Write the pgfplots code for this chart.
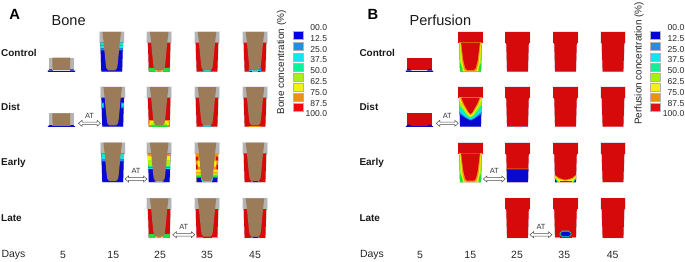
\documentclass[border=0pt]{standalone}
\usepackage{pgfplots}
\pgfplotsset{compat=1.18}
\usepackage{fontspec}
\setmainfont{Liberation Sans}
\definecolor{cA}{HTML}{0000E0}
\definecolor{cB}{HTML}{1E90E8}
\definecolor{cC}{HTML}{10E8F0}
\definecolor{cD}{HTML}{10F09A}
\definecolor{cE}{HTML}{A8F010}
\definecolor{cF}{HTML}{F4F010}
\definecolor{cG}{HTML}{F09010}
\definecolor{cH}{HTML}{EE0A0A}
\definecolor{ired}{HTML}{D60A0A}
\definecolor{iblue}{HTML}{0808D0}
\definecolor{igreen}{HTML}{20E040}
\definecolor{brown}{HTML}{9C7C58}
\definecolor{igray}{HTML}{B4B4B4}
\definecolor{halo}{HTML}{DCDCE6}
% general polygon: colour, sign, x offset, y offset, coordinates
\newcommand\ShX[5]{\addplot[forget plot,no marks,fill=#2,draw=none,x filter/.expression={#3*x+#4},y filter/.expression={y+#5}] coordinates {#1} -- cycle;}
\newcommand\ShG[5]{\edef\tmpc{#5}\expandafter\ShX\expandafter{\tmpc}{#1}{#2}{#3}{#4}}
\newcommand\Sh[4]{\ShG{#1}{1}{#2}{#3}{#4}}
\newcommand\Sm[4]{\ShG{#1}{1}{#2}{#3}{#4}\ShG{#1}{-1}{#2}{#3}{#4}}
% relative shapes
\def\Coll{(-12.2,0)(12.2,0)(12.2,10.8)(-12.2,10.8)}
\def\Bod{(-11.3,10.7)(11.3,10.7)(10.4,39.5)(-10.4,39.5)}
\def\Imp{(-9.3,0)(9.3,0)(8,11)(7,22)(6,32)(5.4,36)(3.6,38.3)(-3.6,38.3)(-5.4,36)(-6,32)(-7,22)(-8,11)}
\def\Short{(-12.2,0)(12.2,0)(12.2,13.3)(-12.2,13.3)}
\newcommand\TallA[3]{%color cx y0
 \addplot[forget plot,no marks,fill=halo,draw=halo,line width=1.1pt,x filter/.expression={x+#2},y filter/.expression={y+#3}] coordinates {(-12.2,0)(12.2,0)(12.2,10.7)(11.3,11)(10.4,39.5)(-10.4,39.5)(-11.3,11)(-12.2,10.7)} -- cycle;
 \Sh{igray}{#2}{#3}{\Coll}\Sh{#1}{#2}{#3}{\Bod}}
\newcommand\ImpA[2]{\Sh{brown}{#1}{#2}{\Imp}}
\newcommand\TallB[3]{%
 \addplot[forget plot,no marks,fill=halo,draw=halo,line width=1.1pt,x filter/.expression={x+#2},y filter/.expression={y+#3}] coordinates {(-12.2,0)(12.2,0)(12.2,10.7)(11.3,11)(10.4,39.5)(-10.4,39.5)(-11.3,11)(-12.2,10.7)} -- cycle;
 \Sh{ired}{#2}{#3}{\Coll}\Sh{#1}{#2}{#3}{\Bod}}
\newcommand\ShortBase[2]{%
 \Sh{halo}{#1}{#2}{(-14.2,12.6)(14.2,12.6)(14.2,13.8)(-14.2,13.8)}
 \Sh{iblue}{#1}{#2}{(-13.6,12.8)(13.6,12.8)(13.6,13.4)(-13.6,13.4)}}
\newcommand\ShortA[2]{%
 \Sh{igray}{#1}{#2}{\Short}\Sh{brown}{#1}{#2}{(-9,0)(9,0)(8.7,13.3)(-8.7,13.3)}
 \ShortBase{#1}{#2}
 \Sm{iblue}{#1}{#2}{(13.2,13)(12,11.6)(9.4,11.6)(8.4,13)}}
\newcommand\ShortB[2]{%
 \Sh{ired}{#1}{#2}{\Short}\ShortBase{#1}{#2}
 \Sm{iblue}{#1}{#2}{(13.2,13)(11.6,11.2)(9.6,11.2)(7.6,13)}}
\newcommand\GreenBand[2]{%
 \Sm{igreen}{#1}{#2}{(0,35.8)(10.5,35.8)(10.4,39.5)(0,39.5)}
 \Sh{cF}{#1}{#2}{(-3.4,37)(3.4,37)(3.8,39.5)(-3.8,39.5)}
 \Sh{cG}{#1}{#2}{(-1.8,38)(1.8,38)(1.8,39.5)(-1.8,39.5)}}
\newcommand\TipBlue[2]{\Sh{cB}{#1}{#2}{(-4,38)(4,38)(4.5,39.5)(-4.5,39.5)}\Sh{iblue}{#1}{#2}{(-2.5,38.6)(2.5,38.6)(2.5,39.5)(-2.5,39.5)}}
\newcommand\TipCyan[2]{\Sh{cC}{#1}{#2}{(-3.6,38)(3.6,38)(4,39.5)(-4,39.5)}\Sm{cB}{#1}{#2}{(3,38.6)(4.8,38.6)(5,39.5)(3,39.5)}}
% U-shaped rim for perfusion at day 15
\newcommand\RimB[2]{%
 \Sh{cE}{#1}{#2}{\Bod}
 \Sm{igreen}{#1}{#2}{(10.7,30)(8,36)(8,39.5)(10.4,39.5)}
 \Sh{cF}{#1}{#2}{(-10.8,10.7)(10.8,10.7)(9.2,30)(7.4,38.8)(-7.4,38.8)(-9.2,30)}
 \Sh{cG}{#1}{#2}{(-10.1,10.7)(10.1,10.7)(8.2,30)(6.4,37.8)(4,39.2)(-4,39.2)(-6.4,37.8)(-8.2,30)}
 \Sh{ired}{#1}{#2}{(-9.4,10.7)(9.4,10.7)(7.2,28)(5.4,35.8)(3.4,38)(-3.4,38)(-5.4,35.8)(-7.2,28)}}
\newcommand\Arrow[2]{%
 \addplot[forget plot,no marks,fill=white,draw=black!70,line width=0.5pt,x filter/.expression={x+#1},y filter/.expression={y+#2}] coordinates {(-11,0)(-7.5,-3)(-7.5,-1.3)(7.5,-1.3)(7.5,-3)(11,0)(7.5,3)(7.5,1.3)(-7.5,1.3)(-7.5,3)} -- cycle;
 \node[font=\fontsize{7.5}{8}\selectfont,text=black!80] at (axis cs:#1,#2-7.6) {AT};}
\newcommand\Patch[3]{\addplot[forget plot,no marks,fill=#3,draw=black!30,line width=0.6pt] coordinates {(#1,#2-3.8)(#1+10,#2-3.8)(#1+10,#2+3.8)(#1,#2+3.8)} -- cycle;}
\newcommand\Lab[3]{\node[anchor=east,inner sep=0pt,font=\fontsize{8.6}{9}\selectfont,text=black!85] at (axis cs:#1,#2) {#3};}
\newcommand\RowL[3]{\node[anchor=west,inner sep=0pt,font=\fontsize{10}{10}\selectfont\bfseries,text=black!90] at (axis cs:#1,#2) {#3};}
\newcommand\DayL[3]{\node[inner sep=0pt,font=\fontsize{10.5}{11}\selectfont,text=black!85] at (axis cs:#1,#2) {#3};}
\begin{document}
\begin{tikzpicture}[x=1bp,y=1bp]
\path[use as bounding box] (0,0) rectangle (685bp,262bp);
\begin{axis}[at={(0,0)},anchor=south west,scale only axis,width=685bp,height=262bp,
 xmin=0,xmax=685,ymin=0,ymax=262,y dir=reverse,hide axis,clip=false]
%%%%% Panel A
% Control
\ShortA{61.3}{57.7}
\TallA{iblue}{111.7}{32}
 \Sm{cD}{111.7}{32}{(11.3,10.7)(6,10.7)(6,13.5)(11.2,13.5)}
 \Sm{cC}{111.7}{32}{(11.2,13.5)(6,13.5)(6,16.5)(11.1,16.5)}
 \Sm{cB}{111.7}{32}{(11.1,16.5)(6,16.5)(6,18.5)(11,18.5)}
\ImpA{111.7}{32}
\TallA{ired}{159.2}{32}\GreenBand{159.2}{32}\ImpA{159.2}{32}
\TallA{ired}{207}{32}\TipCyan{207}{32}\ImpA{207}{32}
\TallA{ired}{255}{32}
 \Sm{cB}{255}{32}{(4,35)(5.6,35)(6.6,39.5)(5,39.5)}
 \Sh{cC}{255}{32}{(-5,38)(5,38)(5,39.5)(-5,39.5)}
 \Sm{iblue}{255}{32}{(3,38.6)(5.2,38.6)(5.2,39.5)(3,39.5)}
\ImpA{255}{32}
% Dist
\ShortA{61.3}{113.4}
\TallA{iblue}{112.7}{87}
 \Sm{cB}{112.7}{87}{(11.1,15.5)(8.5,15.5)(8.5,21)(10.9,21)}
 \Sm{cC}{112.7}{87}{(11.1,16.5)(9.5,16.5)(9.5,19.5)(11,19.5)}
\ImpA{112.7}{87}
\TallA{ired}{159.2}{87}
 \Sm{cG}{159.2}{87}{(0,33)(10.7,33)(10.4,39.5)(0,39.5)}
 \Sm{cF}{159.2}{87}{(4.6,34)(9.2,34)(9.8,38)(4.6,38)}
 \Sm{cE}{159.2}{87}{(4.6,36)(7.4,36)(8.6,38.6)(4,38.6)}
 \Sh{igreen}{159.2}{87}{(-8,37.6)(8,37.6)(8,39.5)(-8,39.5)}
\ImpA{159.2}{87}
\TallA{ired}{207}{87}\TipCyan{207}{87}\ImpA{207}{87}
\TallA{ired}{255}{87}
 \Sh{cG}{255}{87}{(-6,38.8)(6,38.8)(6,39.5)(-6,39.5)}
\ImpA{255}{87}
% Early
\TallA{iblue}{112.7}{142.7}
 \Sm{cD}{112.7}{142.7}{(11.3,10.7)(6,10.7)(6,13.5)(11.2,13.5)}
 \Sm{cC}{112.7}{142.7}{(11.2,13.5)(6,13.5)(6,17)(11.1,17)}
 \Sm{cB}{112.7}{142.7}{(11.1,17)(6,17)(6,18.6)(11,18.6)}
\ImpA{112.7}{142.7}
\TallA{iblue}{159.2}{142.7}
 \Sm{cG}{159.2}{142.7}{(11.3,10.7)(6,10.7)(6,13.5)(11.2,13.5)}
 \Sm{cF}{159.2}{142.7}{(11.2,13.5)(6,13.5)(6,17.5)(11.1,17.5)}
 \Sm{cE}{159.2}{142.7}{(11.1,17.5)(6,17.5)(6,23.5)(10.9,23.5)}
 \Sm{cD}{159.2}{142.7}{(10.9,23.5)(5.5,23.5)(5.5,25)(10.8,25)}
 \Sm{cC}{159.2}{142.7}{(10.8,25)(5.5,25)(5.5,26.2)(10.8,26.2)}
 \TipCyan{159.2}{142.7}
\ImpA{159.2}{142.7}
\TallA{cG}{207}{142.7}
 \Sm{ired}{207}{142.7}{(11.2,14)(9,14)(8.7,18)(11,18)}
 \Sm{cF}{207}{142.7}{(9.6,18)(6,18)(6,24)(8.8,24)}
 \Sm{ired}{207}{142.7}{(10.9,22)(9.6,22)(9.3,27)(10.8,27)}
 \Sm{cF}{207}{142.7}{(10.8,27)(6,27)(6,29.5)(10.7,29.5)}
 \Sm{cE}{207}{142.7}{(10.6,30.5)(5,30.5)(4.5,33)(10.6,33)}
 \Sm{igreen}{207}{142.7}{(10.6,33)(3,33)(3,35)(10.5,35)}
 \Sm{iblue}{207}{142.7}{(10.5,35)(6,35)(4.8,39.5)(10.4,39.5)}
 \Sm{cC}{207}{142.7}{(6,36)(4,35)(0,37)(0,39.5)(4.8,39.5)}
\ImpA{207}{142.7}
\TallA{ired}{255}{142.7}\TipBlue{255}{142.7}\ImpA{255}{142.7}
% Late
\TallA{ired}{159.2}{198.3}\GreenBand{159.2}{198.3}\ImpA{159.2}{198.3}
\TallA{ired}{207}{198.3}
 \Sh{cD}{207}{198.3}{(-10.4,38.7)(10.4,38.7)(10.4,39.5)(-10.4,39.5)}
 \Sh{ired}{207}{198.3}{(-4.5,38)(4.5,38)(4.5,39.5)(-4.5,39.5)}
\ImpA{207}{198.3}
\TallA{ired}{255}{198.3}\TipBlue{255}{198.3}\ImpA{255}{198.3}
% arrows A
\Arrow{89.5}{123.3}
\Arrow{136}{179}
\Arrow{183.8}{234.7}
%%%%% Panel B
% Control
\ShortB{419.3}{57.7}
\TallB{ired}{470.5}{32}\RimB{470.5}{32}
\TallB{ired}{517.5}{32}
\TallB{ired}{565.5}{32}
\TallB{ired}{613}{32}
% Dist
\ShortB{419.3}{113.4}
\TallB{iblue}{470.5}{87}
 \Sh{cB}{470.5}{87}{(-11.3,10.7)(11.3,10.7)(10.8,27)(4,31.5)(0,33.5)(-4,31.5)(-10.8,27)}
 \Sh{cC}{470.5}{87}{(-11.3,10.7)(11.3,10.7)(11,24.5)(4,30.5)(0,32.5)(-4,30.5)(-11,24.5)}
 \Sh{cD}{470.5}{87}{(-11.3,10.7)(11.3,10.7)(11,21.5)(4,29)(0,31.5)(-4,29)(-11,21.5)}
 \Sh{cE}{470.5}{87}{(-11.3,10.7)(11.3,10.7)(11.2,17.5)(3.5,28)(0,30.5)(-3.5,28)(-11.2,17.5)}
 \Sh{cF}{470.5}{87}{(-11.3,10.7)(11.3,10.7)(10.6,14)(3,27)(0,29.5)(-3,27)(-10.6,14)}
 \Sh{cG}{470.5}{87}{(-10.3,10.7)(10.3,10.7)(8,17)(2.5,26)(0,28.2)(-2.5,26)(-8,17)}
 \Sh{ired}{470.5}{87}{(-9.2,10.7)(9.2,10.7)(6.5,17)(2,25)(0,27)(-2,25)(-6.5,17)}
\TallB{ired}{517.5}{87}
 \Sm{cB}{517.5}{87}{(4.5,38.8)(7,38.8)(7.5,39.5)(4,39.5)}
\TallB{ired}{565.5}{87}
\TallB{ired}{613}{87}
% Early
\TallB{ired}{470.5}{142.7}\RimB{470.5}{142.7}
\TallB{ired}{517.5}{142.7}
 \Sh{cG}{517.5}{142.7}{(-10.9,25.8)(10.9,25.8)(10.8,27)(-10.8,27)}
 \Sh{iblue}{517.5}{142.7}{(-10.8,26.6)(10.8,26.6)(10.4,39.5)(-10.4,39.5)}
\TallB{ired}{565.5}{142.7}
 \Sm{cG}{565.5}{142.7}{(10.7,32)(7,35)(3,36.5)(0,37)(0,39.5)(10.4,39.5)}
 \Sm{cF}{565.5}{142.7}{(10.6,33)(7.5,36)(3,37.5)(0,37.8)(0,39.5)(10.4,39.5)}
 \Sh{ired}{565.5}{142.7}{(-6,38)(6,38)(6,39.5)(-6,39.5)}
 \Sm{cE}{565.5}{142.7}{(10.5,34)(7.8,37)(6,39.5)(10.4,39.5)}
 \Sm{cC}{565.5}{142.7}{(10.5,35)(8.2,38)(7.4,39.5)(10.4,39.5)}
 \Sm{iblue}{565.5}{142.7}{(10.5,36.5)(9,38.3)(8.6,39.5)(10.4,39.5)}
\TallB{ired}{613}{142.7}
% Late
\TallB{ired}{517.5}{198.3}
\TallB{ired}{565.5}{198.3}
 \Sh{cC}{565.5}{198.3}{(-10.4,39)(10.4,39)(10.4,39.5)(-10.4,39.5)}
 \Sh{ired}{565.5}{198.3}{(-6,38.7)(6,38.7)(6,39.5)(-6,39.5)}
 \Sh{cD}{565.5}{198.3}{(-3,32.4)(3,32.4)(5.6,34.6)(6,36.4)(3,38.6)(-3,38.6)(-6,36.4)(-5.6,34.6)}
 \Sh{iblue}{565.5}{198.3}{(-2.6,33.2)(2.6,33.2)(5,35)(5,36.5)(2.6,38)(-2.6,38)(-5,36.5)(-5,35)}
\TallB{ired}{613}{198.3}
% arrows B
\Arrow{447.3}{123.3}
\Arrow{494.3}{179}
\Arrow{541}{234.7}
%%%%% Legend A
\Patch{293.4}{35.3}{cA}\Patch{293.4}{46}{cB}\Patch{293.4}{57}{cC}\Patch{293.4}{67.5}{cD}
\Patch{293.4}{77}{cE}\Patch{293.4}{87}{cF}\Patch{293.4}{97}{cG}\Patch{293.4}{107.5}{cH}
\Lab{327.3}{27.7}{00.0}\Lab{327.3}{38.5}{12.5}\Lab{327.3}{49.3}{25.0}\Lab{327.3}{60}{37.5}
\Lab{327.3}{70.8}{50.0}\Lab{327.3}{81.6}{62.5}\Lab{327.3}{92.4}{75.0}\Lab{327.3}{103.2}{87.5}\Lab{327.3}{114}{100.0}
\node[rotate=90,inner sep=0pt,font=\fontsize{10}{10}\selectfont,text=black!85] at (axis cs:281.5,62.5) {Bone concentration (\%)};
%%%%% Legend B
\Patch{650}{35.3}{cA}\Patch{650}{46}{cB}\Patch{650}{57}{cC}\Patch{650}{67.5}{cD}
\Patch{650}{77}{cE}\Patch{650}{87}{cF}\Patch{650}{97}{cG}\Patch{650}{107.5}{cH}
\Lab{684.5}{27.7}{00.0}\Lab{684.5}{38.5}{12.5}\Lab{684.5}{49.3}{25.0}\Lab{684.5}{60}{37.5}
\Lab{684.5}{70.8}{50.0}\Lab{684.5}{81.6}{62.5}\Lab{684.5}{92.4}{75.0}\Lab{684.5}{103.2}{87.5}\Lab{684.5}{114}{100.0}
\node[rotate=90,inner sep=0pt,font=\fontsize{10}{10}\selectfont,text=black!85] at (axis cs:639,63.5) {Perfusion concentration (\%)};
%%%%% Titles
\node[anchor=base west,inner sep=0pt,font=\fontsize{14.8}{15}\selectfont\bfseries] at (axis cs:9.2,19.5) {A};
\node[anchor=base west,inner sep=0pt,font=\fontsize{14.8}{15}\selectfont\bfseries] at (axis cs:367.5,19.5) {B};
\node[anchor=base west,inner sep=0pt,font=\fontsize{14.6}{15}\selectfont,text=black!90] at (axis cs:51.5,25.3) {Bone};
\node[anchor=base west,inner sep=0pt,font=\fontsize{14.6}{15}\selectfont,text=black!90] at (axis cs:409.5,25.3) {Perfusion};
%%%%% Row labels
\RowL{1}{53}{Control}\RowL{1}{107}{Dist}\RowL{1}{163}{Early}\RowL{1}{218}{Late}
\RowL{359.3}{53}{Control}\RowL{359.3}{107}{Dist}\RowL{359.3}{163}{Early}\RowL{359.3}{218}{Late}
%%%%% Days
\DayL{13.5}{255}{Days}\DayL{63}{255}{5}\DayL{113.3}{255}{15}\DayL{160}{255}{25}\DayL{207}{255}{35}\DayL{255}{255}{45}
\DayL{372}{255}{Days}\DayL{420}{255}{5}\DayL{470.3}{255}{15}\DayL{517}{255}{25}\DayL{564.3}{255}{35}\DayL{612.7}{255}{45}
\end{axis}
\end{tikzpicture}
\end{document}
